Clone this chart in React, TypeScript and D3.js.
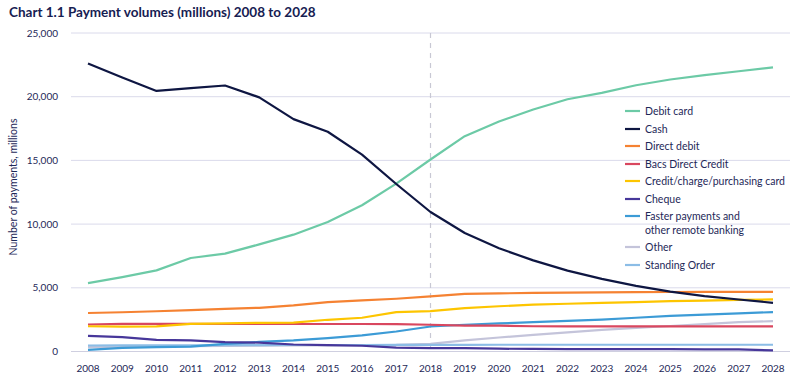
import React from "react";
import * as d3 from "d3";

const years = d3.range(2008, 2029);
const yTicks = [0, 5000, 10000, 15000, 20000, 25000];

const debitCard = [5370, 5840, 6370, 7340, 7680, 8410, 9170, 10170, 11480, 13180, 15070, 16900, 18050, 19000, 19800, 20300, 20900, 21350, 21700, 22000, 22300];
const cash = [22600, 21500, 20450, 20680, 20880, 19950, 18240, 17250, 15450, 13150, 10950, 9300, 8100, 7150, 6350, 5700, 5150, 4700, 4350, 4080, 3820];
const directDebit = [3020, 3080, 3160, 3250, 3350, 3430, 3620, 3880, 4010, 4140, 4320, 4530, 4560, 4600, 4620, 4640, 4660, 4670, 4680, 4680, 4680];
const bacs = [2120, 2170, 2170, 2170, 2160, 2170, 2160, 2160, 2160, 2150, 2100, 2030, 2030, 1980, 1970, 1970, 1970, 1970, 1970, 1970, 1970];
const creditCard = [1980, 1960, 1970, 2170, 2200, 2250, 2270, 2490, 2650, 3090, 3170, 3400, 3550, 3680, 3750, 3820, 3880, 3950, 4000, 4050, 4090];
const cheque = [1230, 1130, 920, 880, 730, 700, 550, 500, 450, 310, 270, 260, 220, 200, 190, 180, 180, 180, 170, 160, 90];
const fasterPayments = [130, 290, 350, 390, 600, 750, 870, 1050, 1260, 1570, 1965, 2100, 2200, 2300, 2400, 2500, 2650, 2800, 2900, 3000, 3090];
const other = [350, 380, 400, 420, 440, 460, 470, 480, 500, 520, 600, 870, 1100, 1300, 1500, 1700, 1850, 2000, 2150, 2300, 2380];
const standingOrder = [470, 480, 490, 490, 500, 500, 510, 510, 510, 520, 520, 520, 530, 530, 530, 530, 530, 530, 530, 530, 530];

const seriesNames = [
  "Debit card",
  "Cash",
  "Direct debit",
  "Bacs Direct Credit",
  "Credit/charge/purchasing card",
  "Cheque",
  "Faster payments and other remote banking",
  "Other",
  "Standing Order",
];
const seriesValues = [debitCard, cash, directDebit, bacs, creditCard, cheque, fasterPayments, other, standingOrder];
const seriesColors = ["#6ccaa6", "#0e1642", "#f58232", "#d9475f", "#fdc500", "#47379a", "#3c9bd6", "#c4c4da", "#8cbde6"];
const drawOrder = [7, 8, 6, 5, 3, 4, 2, 0, 1];

export default function App() {
  const W = 800, H = 391;
  const x = d3.scaleLinear().domain([2008, 2028]).range([88, 773]);
  const y = d3.scaleLinear().domain([0, 25000]).range([351.5, 33]);
  const line = d3.line<number>().x((_, i) => x(years[i])).y((d) => y(d));
  const font = "'Lato', 'Open Sans', sans-serif";
  const textColor = "#1e2858";

  const legendY = [111, 129, 146, 164, 181, 199, 216, 247, 265];

  return (
    <svg width={W} height={H} style={{ position: "absolute", left: 0, top: 0, display: "block" }} fontFamily={font}>
      <rect width={W} height={H} fill="#fff" />
      <text x={9} y={17} fontSize={13.5} fontWeight={700} fill="#162052">
        Chart 1.1 Payment volumes (millions) 2008 to 2028
      </text>
      {yTicks.map((t) => (
        <g key={t}>
          <line x1={71} x2={790} y1={y(t)} y2={y(t)} stroke={t === 0 ? "#cfcfe0" : "#dadaeb"} strokeWidth={1} />
          <text x={58} y={y(t) + 3.5} fontSize={10} textAnchor="end" fill={textColor}>
            {d3.format(",")(t)}
          </text>
        </g>
      ))}
      <text transform={`translate(17,187) rotate(-90)`} fontSize={10.5} textAnchor="middle" fill={textColor}>
        Number of payments, millions
      </text>
      {years.map((yr) => (
        <text key={yr} x={x(yr)} y={372} fontSize={10} textAnchor="middle" fill={textColor}>
          {yr}
        </text>
      ))}
      <line x1={x(2018)} x2={x(2018)} y1={33} y2={351} stroke="#c8c8d4" strokeWidth={1.2} strokeDasharray="5,5" />
      {drawOrder.map((i) => (
        <path key={i} d={line(seriesValues[i]) || ""} fill="none" stroke={seriesColors[i]} strokeWidth={2.2} strokeLinejoin="round" />
      ))}
      {seriesNames.map((name, i) => {
        const ly = legendY[i];
        const parts = i === 6 ? ["Faster payments and", "other remote banking"] : [name];
        return (
          <g key={name}>
            <line x1={625} x2={640} y1={ly} y2={ly} stroke={seriesColors[i]} strokeWidth={2.2} />
            {parts.map((p, j) => (
              <text key={j} x={645} y={ly + 4 + j * 14} fontSize={10.5} fill={textColor}>
                {p}
              </text>
            ))}
          </g>
        );
      })}
    </svg>
  );
}
